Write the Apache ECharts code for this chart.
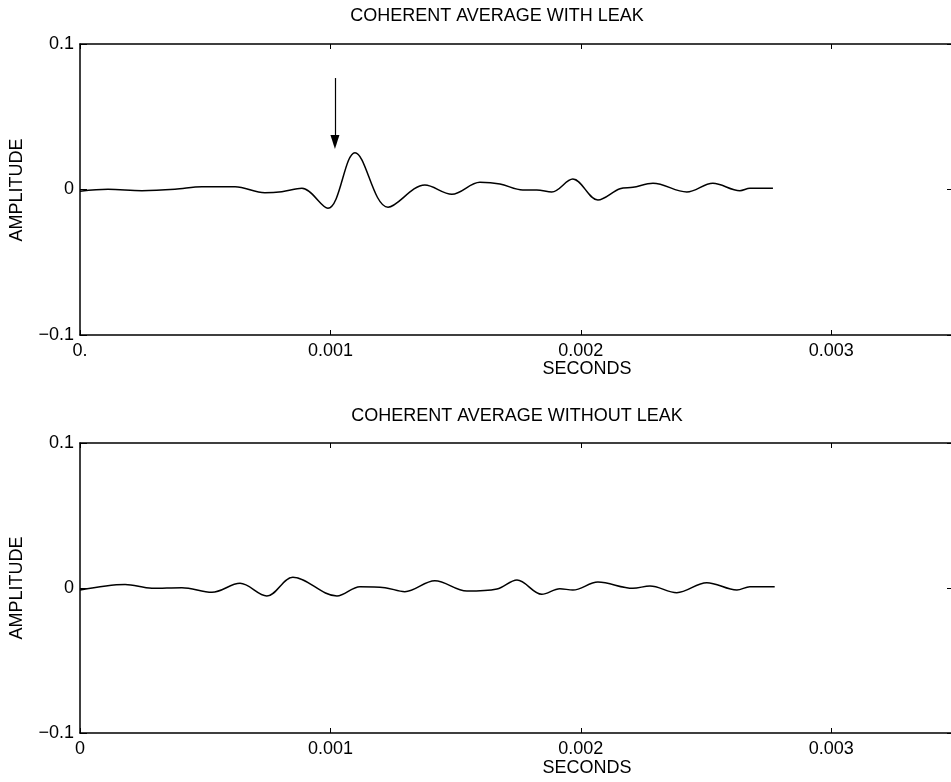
<!DOCTYPE html>
<html>
<head>
<meta charset="utf-8">
<script src="https://cdn.jsdelivr.net/npm/echarts@6/dist/echarts.min.js"></script>
<style>
  html, body { margin: 0; padding: 0; background: #fff; }
  #chart { width: 951px; height: 782px; }
</style>
</head>
<body>
<div id="chart"></div>
<script>
// Coherent average traces (seconds, amplitude)
const topTime = [0.0000, 0.000112, 0.000247, 0.000379, 0.000487, 0.000619, 0.000738, 0.000806, 0.000886,
  0.000990, 0.001098, 0.001230, 0.001377, 0.001485, 0.001597, 0.001677, 0.001768, 0.001824, 0.001884,
  0.001968, 0.002068, 0.002156, 0.002208, 0.002288, 0.002423, 0.002527, 0.002635, 0.002675, 0.002767];
const topAmp = [-0.0012, 0.0001, -0.0008, 0.0001, 0.0019, 0.0019, -0.0022, -0.0015, 0.0008,
  -0.0129, 0.0253, -0.0122, 0.0031, -0.0033, 0.0049, 0.0038, -0.0003, -0.0003, -0.0017,
  0.0072, -0.0072, 0.0005, 0.0015, 0.0043, -0.0017, 0.0043, -0.0008, 0.0008, 0.0008];

const bottomTime = [0.0000, 0.000180, 0.000287, 0.000407, 0.000527, 0.000639, 0.000746, 0.000850,
  0.001026, 0.001118, 0.001218, 0.001297, 0.001417, 0.001545, 0.001665, 0.001745, 0.001844, 0.001916,
  0.001968, 0.002068, 0.002208, 0.002276, 0.002383, 0.002503, 0.002623, 0.002675, 0.002774];
const bottomAmp = [-0.0014, 0.0025, -0.0002, 0.0002, -0.0030, 0.0032, -0.0055, 0.0074,
  -0.0055, 0.0009, 0.0002, -0.0025, 0.0050, -0.0021, -0.0007, 0.0055, -0.0043, -0.0005,
  -0.0014, 0.0041, -0.0002, 0.0014, -0.0032, 0.0037, -0.0014, 0.0009, 0.0009];

// Axis ticks
const xTicks = [0, 0.001, 0.002, 0.003];
const xTickLabelsTop = ['0.', '0.001', '0.002', '0.003'];
const xTickLabelsBottom = ['0', '0.001', '0.002', '0.003'];
const yTicks = [-0.1, 0, 0.1];
const yTickLabels = ['\u22120.1', '0', '0.1'];

// Arrow marking the leak arrival (time, amplitude from -> to)
const arrowTime = 0.001018;
const arrowFrom = 0.0766;
const arrowTo = 0.0326;

const titles = ['COHERENT AVERAGE WITH LEAK', 'COHERENT AVERAGE WITHOUT LEAK'];
const yName = 'AMPLITUDE';
const xName = 'SECONDS';

const FONT = '"Liberation Sans", Arial, Helvetica, sans-serif';
const FS = 18;
const X_MAX = 0.00349;

function zip(a, b) { return a.map((v, i) => [v, b[i]]); }

function labelFrom(ticks, labels) {
  return function (v) {
    for (let i = 0; i < ticks.length; i++) {
      if (Math.abs(v - ticks[i]) < 1e-9) return labels[i];
    }
    return '';
  };
}

// Plot frames run slightly past the right edge of the page
const grids = [
  { left: 80, top: 44, width: 874, height: 291, outerBoundsMode: 'none', containLabel: false },
  { left: 80, top: 443, width: 874, height: 290, outerBoundsMode: 'none', containLabel: false }
];

const xAxes = [];
const yAxes = [];
[0, 1].forEach(g => {
  const xLabels = g === 0 ? xTickLabelsTop : xTickLabelsBottom;
  ['bottom', 'top'].forEach(pos => {
    xAxes.push({
      type: 'value', gridIndex: g, position: pos, min: 0, max: X_MAX, interval: 0.001,
      axisLine: { show: true, onZero: false, lineStyle: { color: '#000', width: 1.5 } },
      axisTick: { show: true, inside: true, length: 5, lineStyle: { color: '#000', width: 1 } },
      axisLabel: {
        show: pos === 'bottom', color: '#000', fontFamily: FONT, fontSize: FS, margin: 7,
        showMaxLabel: false, formatter: labelFrom(xTicks, xLabels)
      },
      splitLine: { show: false }
    });
  });
  ['left', 'right'].forEach(pos => {
    yAxes.push({
      type: 'value', gridIndex: g, position: pos, min: -0.1, max: 0.1, interval: 0.1,
      axisLine: { show: true, onZero: false, lineStyle: { color: '#000', width: 1.5 } },
      axisTick: { show: true, inside: true, length: 7, lineStyle: { color: '#000', width: 1 } },
      axisLabel: {
        show: pos === 'left', color: '#000', fontFamily: FONT, fontSize: FS, margin: 6,
        formatter: labelFrom(yTicks, yTickLabels)
      },
      splitLine: { show: false }
    });
  });
});

const lineStyle = { color: '#000', width: 1.5 };

const series = [
  {
    type: 'line', xAxisIndex: 0, yAxisIndex: 0, data: zip(topTime, topAmp),
    smooth: 0.35, showSymbol: false, lineStyle, silent: true, animation: false,
    markLine: {
      silent: true, animation: false,
      symbol: ['none', 'triangle'], symbolSize: [9, 14], symbolOffset: [0, 0],
      label: { show: false },
      lineStyle: { color: '#000', width: 1.2, type: 'solid' },
      itemStyle: { color: '#000' },
      data: [[{ coord: [arrowTime, arrowFrom] }, { coord: [arrowTime, arrowTo] }]]
    }
  },
  {
    type: 'line', xAxisIndex: 2, yAxisIndex: 2, data: zip(bottomTime, bottomAmp),
    smooth: 0.35, showSymbol: false, lineStyle, silent: true, animation: false
  }
];

function text(x, y, str, rotation) {
  return {
    type: 'text', x, y, rotation: rotation || 0, silent: true,
    style: {
      text: str, fill: '#000', font: FS + 'px ' + FONT,
      align: 'center', verticalAlign: 'middle'
    }
  };
}

const graphic = [
  text(497, 16, titles[0]),
  text(517, 416, titles[1]),
  text(17, 190, yName, Math.PI / 2),
  text(17, 588, yName, Math.PI / 2),
  text(587, 369, xName),
  text(587, 768, xName)
];

const chart = echarts.init(document.getElementById('chart'), null, { renderer: 'canvas' });
chart.setOption({
  backgroundColor: '#fff',
  animation: false,
  grid: grids,
  xAxis: xAxes,
  yAxis: yAxes,
  series,
  graphic
});
</script>
</body>
</html>
